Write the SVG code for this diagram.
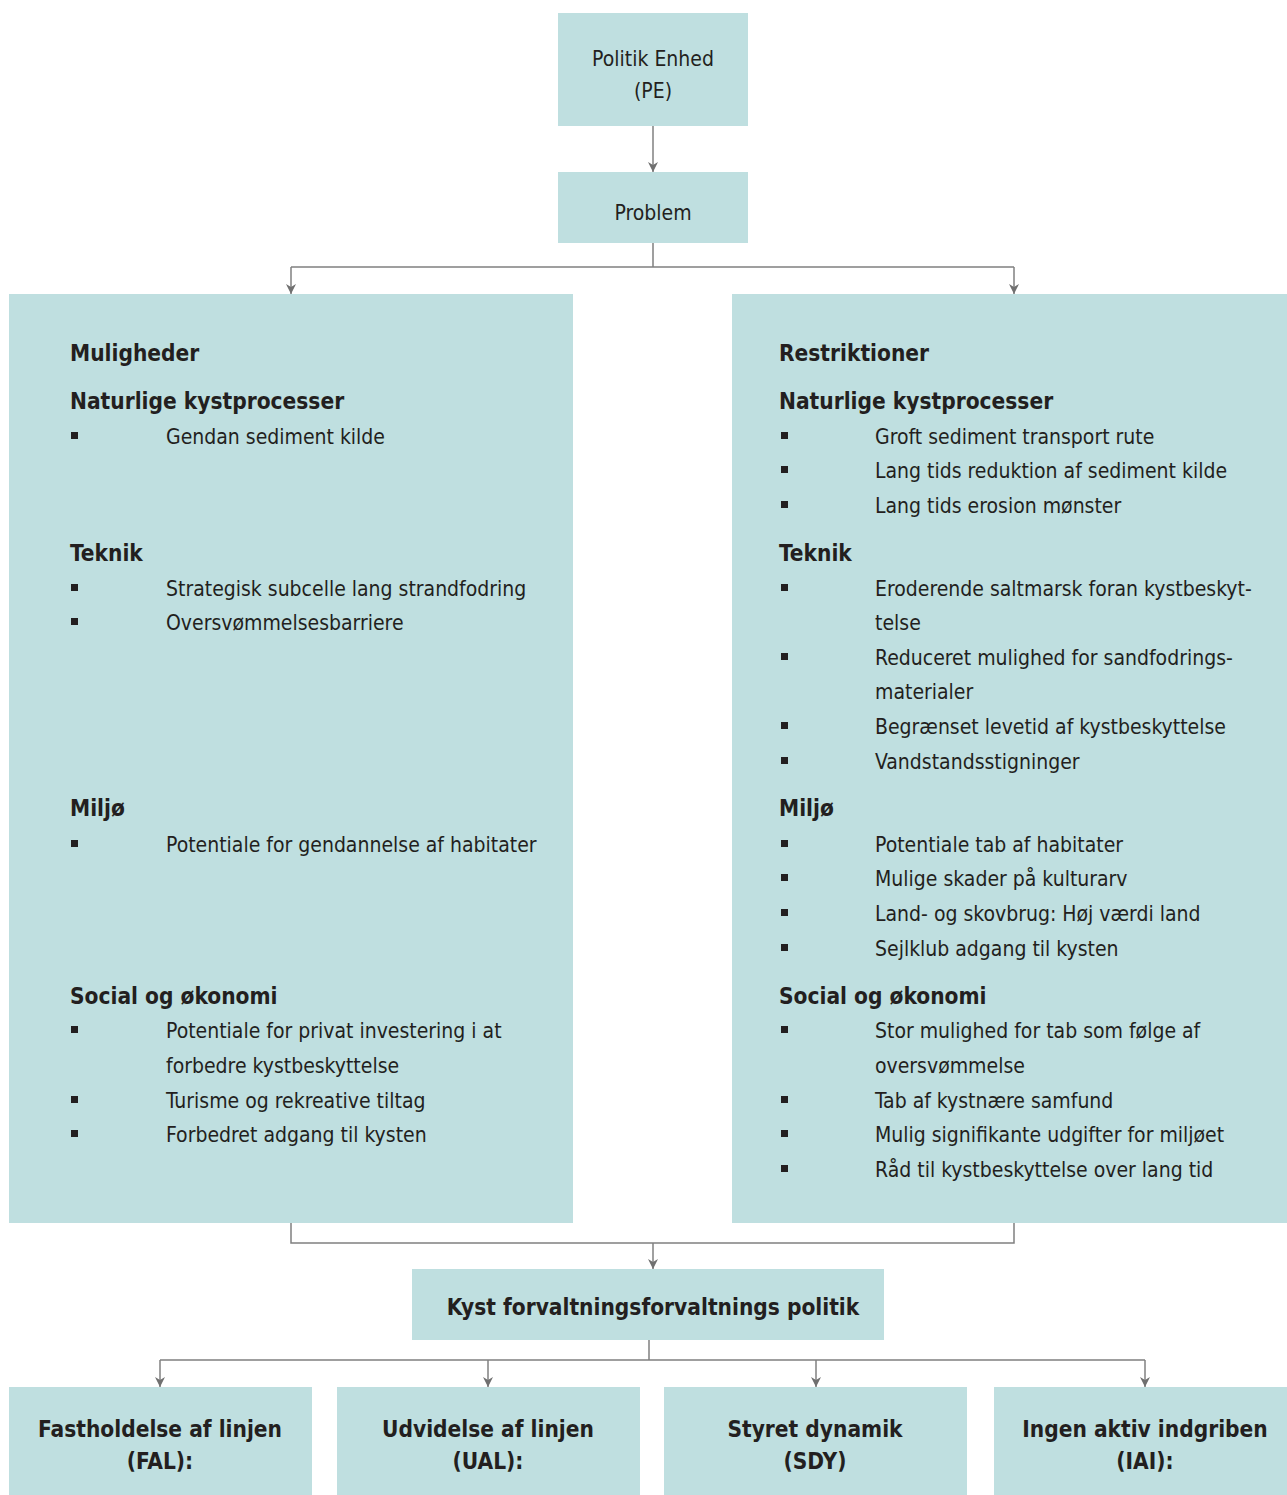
<svg xmlns="http://www.w3.org/2000/svg" width="1287" height="1495" viewBox="0 0 1287 1495">
<style>
.box{fill:#bfdfe0}
text{font-family:"DejaVu Sans Condensed","DejaVu Sans",sans-serif;font-stretch:condensed;fill:#231f20}
.t{font-size:21px;font-weight:300}
.c{text-anchor:middle}
.b{font-size:22.5px;font-weight:bold}
.conn{fill:none;stroke:#808080;stroke-width:1.5}
.bl{fill:#231f20}
</style>
<defs>
<marker id="ah" viewBox="0 0 10 14" refX="10" refY="7" markerWidth="10" markerHeight="14" markerUnits="userSpaceOnUse" orient="auto">
<path d="M0,2 L10,7 L0,12 L3,7 Z" fill="#707070"/>
</marker>
</defs>
<g id="connectors">
<path class="conn" d="M653,126 V172" marker-end="url(#ah)"/>
<path class="conn" d="M653,243 V267 M291,267 H1014"/>
<path class="conn" d="M291,267 V294" marker-end="url(#ah)"/>
<path class="conn" d="M1014,267 V294" marker-end="url(#ah)"/>
<path class="conn" d="M291,1223 V1243 H1014 V1223"/>
<path class="conn" d="M653,1243 V1269" marker-end="url(#ah)"/>
<path class="conn" d="M649,1340 V1360 M160,1360 H1145"/>
<path class="conn" d="M160,1360 V1387" marker-end="url(#ah)"/>
<path class="conn" d="M488,1360 V1387" marker-end="url(#ah)"/>
<path class="conn" d="M816,1360 V1387" marker-end="url(#ah)"/>
<path class="conn" d="M1145,1360 V1387" marker-end="url(#ah)"/>
</g>
<g id="pe">
<rect class="box" x="558" y="13" width="190" height="113"/>
<text class="t c" x="653" y="66">Politik Enhed</text>
<text class="t c" x="653" y="98">(PE)</text>
</g>
<g id="problem">
<rect class="box" x="558" y="172" width="190" height="71"/>
<text class="t c" x="653" y="220">Problem</text>
</g>
<g id="muligheder">
<rect class="box" x="9" y="294" width="564" height="929"/>
<text class="b" x="70" y="361">Muligheder</text>
<text class="b" x="70" y="409">Naturlige kystprocesser</text>
<rect class="bl" x="71" y="432" width="7" height="7"/><text class="t" x="166" y="444">Gendan sediment kilde</text>
<text class="b" x="70" y="561">Teknik</text>
<rect class="bl" x="71" y="584" width="7" height="7"/><text class="t" x="166" y="596">Strategisk subcelle lang strandfodring</text>
<rect class="bl" x="71" y="618" width="7" height="7"/><text class="t" x="166" y="630">Oversvømmelsesbarriere</text>
<text class="b" x="70" y="816">Miljø</text>
<rect class="bl" x="71" y="840" width="7" height="7"/><text class="t" x="166" y="852">Potentiale for gendannelse af habitater</text>
<text class="b" x="70" y="1004">Social og økonomi</text>
<rect class="bl" x="71" y="1026" width="7" height="7"/><text class="t" x="166" y="1038">Potentiale for privat investering i at</text>
<text class="t" x="166" y="1073">forbedre kystbeskyttelse</text>
<rect class="bl" x="71" y="1096" width="7" height="7"/><text class="t" x="166" y="1108">Turisme og rekreative tiltag</text>
<rect class="bl" x="71" y="1130" width="7" height="7"/><text class="t" x="166" y="1142">Forbedret adgang til kysten</text>
</g>
<g id="restriktioner">
<rect class="box" x="732" y="294" width="555" height="929"/>
<text class="b" x="779" y="361">Restriktioner</text>
<text class="b" x="779" y="409">Naturlige kystprocesser</text>
<rect class="bl" x="781" y="432" width="7" height="7"/><text class="t" x="875" y="444">Groft sediment transport rute</text>
<rect class="bl" x="781" y="466" width="7" height="7"/><text class="t" x="875" y="478">Lang tids reduktion af sediment kilde</text>
<rect class="bl" x="781" y="501" width="7" height="7"/><text class="t" x="875" y="513">Lang tids erosion mønster</text>
<text class="b" x="779" y="561">Teknik</text>
<rect class="bl" x="781" y="584" width="7" height="7"/><text class="t" x="875" y="596">Eroderende saltmarsk foran kystbeskyt-</text>
<text class="t" x="875" y="630">telse</text>
<rect class="bl" x="781" y="653" width="7" height="7"/><text class="t" x="875" y="665">Reduceret mulighed for sandfodrings-</text>
<text class="t" x="875" y="699">materialer</text>
<rect class="bl" x="781" y="722" width="7" height="7"/><text class="t" x="875" y="734">Begrænset levetid af kystbeskyttelse</text>
<rect class="bl" x="781" y="757" width="7" height="7"/><text class="t" x="875" y="769">Vandstandsstigninger</text>
<text class="b" x="779" y="816">Miljø</text>
<rect class="bl" x="781" y="840" width="7" height="7"/><text class="t" x="875" y="852">Potentiale tab af habitater</text>
<rect class="bl" x="781" y="874" width="7" height="7"/><text class="t" x="875" y="886">Mulige skader på kulturarv</text>
<rect class="bl" x="781" y="909" width="7" height="7"/><text class="t" x="875" y="921">Land- og skovbrug: Høj værdi land</text>
<rect class="bl" x="781" y="944" width="7" height="7"/><text class="t" x="875" y="956">Sejlklub adgang til kysten</text>
<text class="b" x="779" y="1004">Social og økonomi</text>
<rect class="bl" x="781" y="1026" width="7" height="7"/><text class="t" x="875" y="1038">Stor mulighed for tab som følge af</text>
<text class="t" x="875" y="1073">oversvømmelse</text>
<rect class="bl" x="781" y="1096" width="7" height="7"/><text class="t" x="875" y="1108">Tab af kystnære samfund</text>
<rect class="bl" x="781" y="1130" width="7" height="7"/><text class="t" x="875" y="1142">Mulig signifikante udgifter for miljøet</text>
<rect class="bl" x="781" y="1165" width="7" height="7"/><text class="t" x="875" y="1177">Råd til kystbeskyttelse over lang tid</text>
</g>
<g id="politik">
<rect class="box" x="412" y="1269" width="472" height="71"/>
<text class="b c" x="653" y="1315">Kyst forvaltningsforvaltnings politik</text>
</g>
<g id="fal">
<rect class="box" x="9" y="1387" width="303" height="108"/>
<text class="b c" x="160" y="1437">Fastholdelse af linjen</text>
<text class="b c" x="160" y="1469">(FAL):</text>
</g>
<g id="ual">
<rect class="box" x="337" y="1387" width="303" height="108"/>
<text class="b c" x="488" y="1437">Udvidelse af linjen</text>
<text class="b c" x="488" y="1469">(UAL):</text>
</g>
<g id="sdy">
<rect class="box" x="664" y="1387" width="303" height="108"/>
<text class="b c" x="815" y="1437">Styret dynamik</text>
<text class="b c" x="815" y="1469">(SDY)</text>
</g>
<g id="iai">
<rect class="box" x="994" y="1387" width="293" height="108"/>
<text class="b c" x="1145" y="1437">Ingen aktiv indgriben</text>
<text class="b c" x="1145" y="1469">(IAI):</text>
</g>
</svg>
